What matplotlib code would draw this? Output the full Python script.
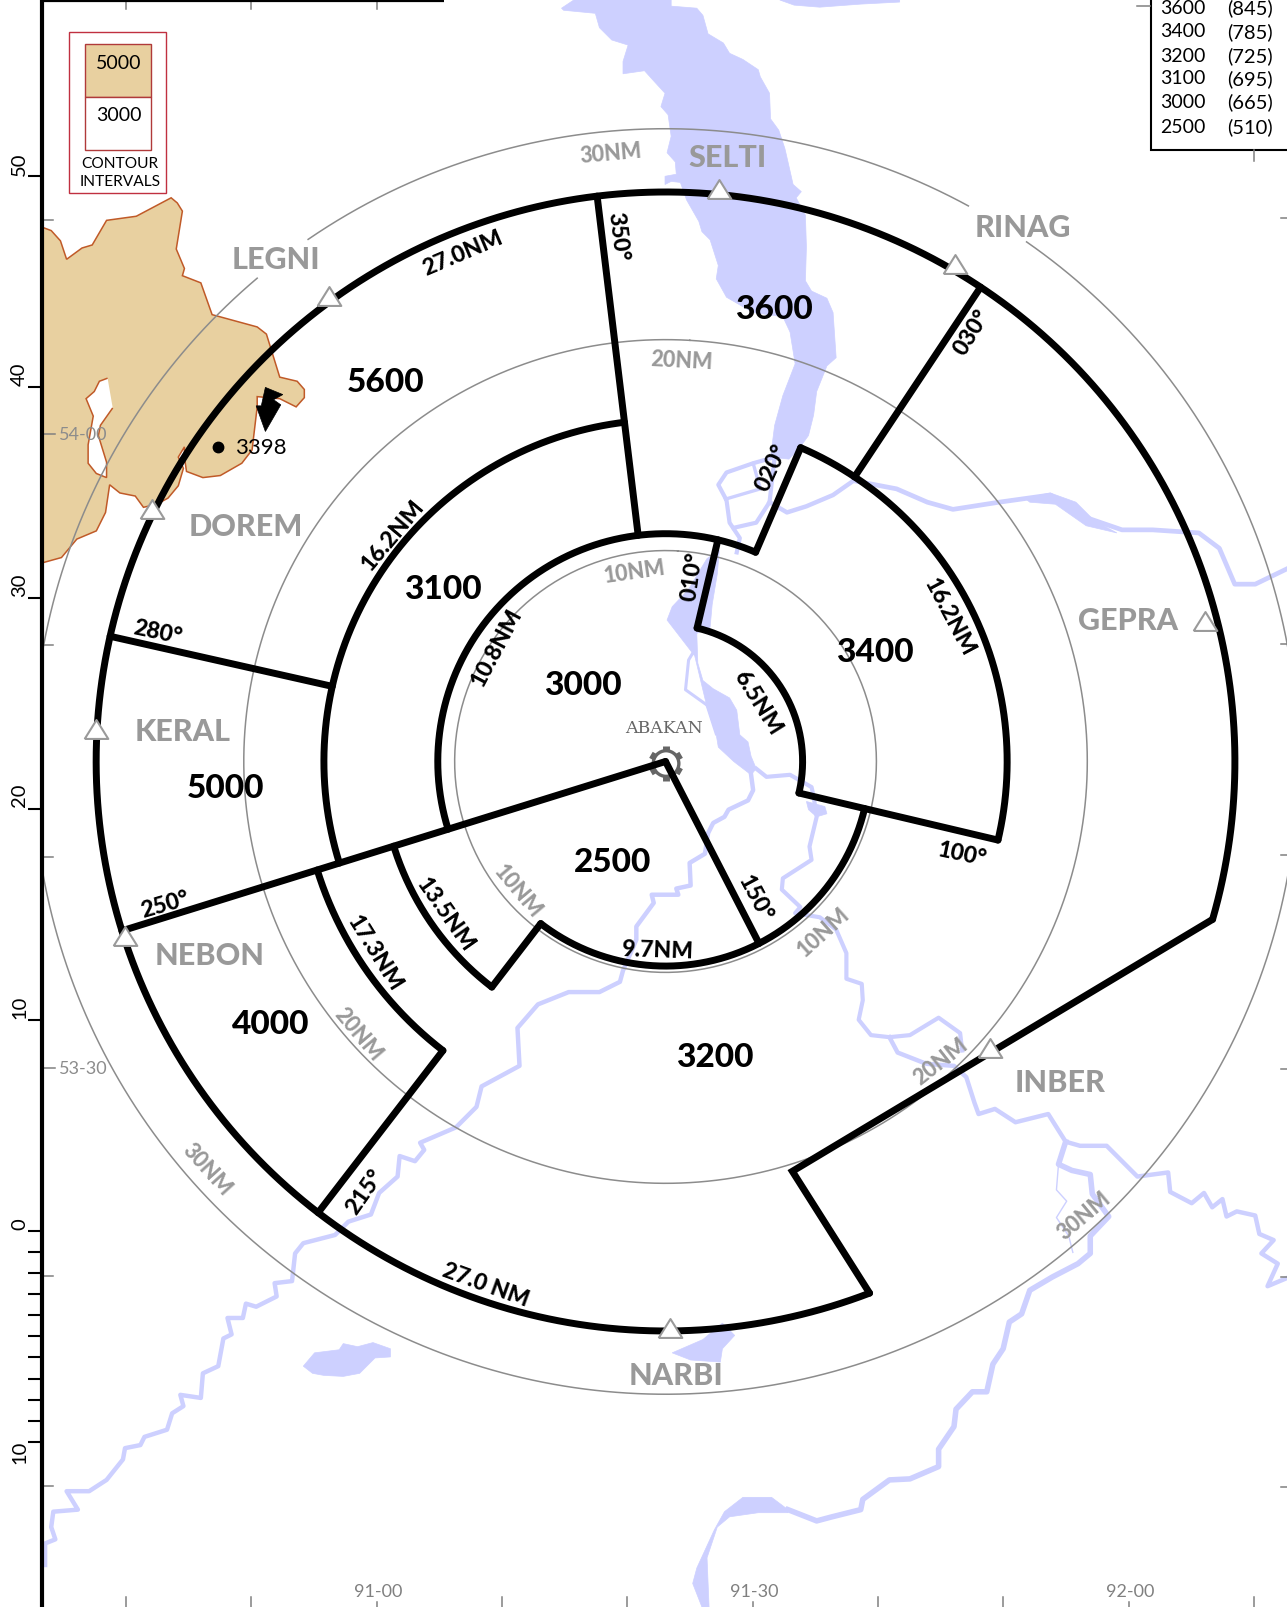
import numpy as np
import matplotlib
matplotlib.use("Agg")
import matplotlib.pyplot as plt
from matplotlib.patches import Polygon, Rectangle, Circle, PathPatch
from matplotlib.path import Path

plt.rcParams['font.family'] = ['Lato', 'DejaVu Sans']

# chart frame expressed in picture units
W, H = 1256, 1568
CX, CY, NM, ROT = 649.5, 743.0, 20.58, 3.3
WATER, TAN, EDGE, GREY = '#CDD0FF', '#E8D0A0', '#C05A28', '#999999'

# --- sector structure (bearing in degrees, distance in NM)
outer_arc = (27.0, 155.7, 462.8)
arcs = [(16.2, 249.4, 349.8), (16.2, 20, 100), (10.8, 249.4, 380), (6.5, 10, 100),
        (9.7, 100, 214.3), (13.5, 214.3, 249.4), (17.3, 214.3, 249.4)]
radials = [(249.4, 0, 27), (149.5, 0, 9.7), (279.4, 16.2, 27), (349.8, 10.8, 27), (30.3, 16.2, 27),
           (20, 10.8, 16.2), (10, 6.5, 10.8), (100, 6.5, 16.2), (214.3, 9.7, 13.5), (214.3, 17.3, 27)]
notch_brg = [155.7, 159.5, 102.8]
notch_nm = [27, 20.34, 27]
range_rings = [10, 20, 30]
ring30_gaps = [(316.5, 322.3), (25.3, 31.5)]

# --- labels
sector_names = ['5600', '3600', '3100', '3400', '3000', '2500', '5000', '4000', '3200']
sector_x = [376, 755, 432, 854, 569, 598, 220, 264, 698]
sector_y = [371, 300, 573, 635, 667, 840, 767, 998, 1030]

fix_names = ['LEGNI', 'SELTI', 'RINAG', 'GEPRA', 'DOREM', 'KERAL', 'NEBON', 'INBER', 'NARBI']
fix_lx = [269, 710, 998, 1101, 240, 178, 205, 1035, 660]
fix_ly = [252, 152, 220, 604, 512, 712, 931, 1055, 1341]
fix_tx = [321, 702, 932, 1176, 148, 94, 122, 966, 654]
fix_ty = [289, 184, 258, 606, 497, 711, 913, 1023, 1296]

ring_text = ['30NM', '20NM', '10NM', '10NM', '20NM', '30NM', '10NM', '20NM', '30NM']
ring_tx = [596, 665, 619, 507, 351, 203, 802, 917, 1057]
ring_ty = [148, 350, 556, 869, 1008, 1140, 908, 1034, 1185]
ring_rot = [5, -3, 8, -50, -50, -48, 42, 38, 40]

seg_text = ['27.0NM', '350°', '030°', '020°', '010°', '16.2NM', '16.2NM', '10.8NM', '6.5NM', '280°',
            '250°', '100°', '150°', '13.5NM', '9.7NM', '17.3NM', '215°', '27.0 NM']
seg_x = [451, 605, 947, 752, 674, 382, 928, 483, 741, 154, 161, 939, 739, 436, 641, 367, 355, 475]
seg_y = [245, 231, 323, 456, 562, 521, 601, 631, 685, 615, 881, 832, 876, 892, 926, 929, 1162, 1252]
seg_rot = [23, -83, 58, 65, 82, 50, -62, 62, -58, -12, 16, -12, -62, -55, -2, -58, 55, -20]

# --- MSA table
table_alt = ['3600', '3400', '3200', '3100', '3000', '2500']
table_m = ['(845)', '(785)', '(725)', '(695)', '(665)', '(510)']
table_y = [7, 30, 54, 76, 99, 123]

# --- scales
scale_vals = [50, 40, 30, 20, 10, 0, -1, -2, -3, -4, -5, -6, -7, -8, -9, -10]
scale_lab = {50: 160, 40: 365, 30: 571, 20: 776, 10: 983, 0: 1194, -10: 1417}
lat_ticks = [215, 423, 629, 836, 1042, 1245, 1450]
lat_long = {423: '54-00', 1042: '53-30'}
right_ticks = [213, 628, 834, 1043, 1246, 1451]
lon_ticks = [123, 245, 368, 490, 612, 735, 857, 979, 1102, 1224]
lon_labels = {368: '91-00', 735: '91-30', 1102: '92-00'}
top_ticks = [123, 245, 368]

# --- terrain and water outlines
terrain_x = [42, 50, 59, 65, 80, 90, 104, 133, 167, 173, 178, 172, 180, 178, 196, 207, 251, 260, 273, 290, 297, 297, 289, 273, 251, 251, 246, 236, 215, 198, 182, 180, 180, 174, 179, 174, 164, 153, 140, 132, 117, 107, 103, 94, 75, 60, 42]
terrain_y = [222, 225, 235, 253, 242, 239, 215, 211, 193, 198, 206, 243, 262, 269, 276, 307, 319, 326, 368, 372, 380, 388, 397, 389, 387, 397, 439, 452, 464, 466, 460, 446, 436, 446, 457, 474, 486, 492, 495, 484, 481, 473, 500, 518, 526, 544, 549]
hole_x = [105, 97, 92, 84, 91, 86, 86, 94, 104, 104, 96, 98, 110]
hole_y = [369, 372, 382, 389, 406, 434, 452, 462, 466, 451, 425, 415, 398]
peak_arrow_x = [259, 276, 267, 274, 259, 250, 255, 257]
peak_arrow_y = [378, 385, 390, 395, 421, 396, 396, 387]

lake_n_x = [560, 655, 655, 680, 686, 691, 706, 712, 725, 740, 742, 751, 752, 760, 766, 769, 774, 782, 777, 786, 787, 786, 792, 807, 813, 816, 807, 797, 794, 789, 781, 770, 752, 756, 764, 776, 771, 764, 735, 709, 699, 701, 693, 685, 682, 670, 664, 655, 649, 649, 660, 659, 651, 655, 652, 645, 649, 638, 629, 608, 608, 613, 597, 585, 581, 550, 548]
lake_n_y = [0, 0, 6, 8, 15, 33, 42, 52, 58, 68, 75, 91, 116, 127, 145, 158, 180, 187, 193, 210, 241, 274, 284, 291, 305, 349, 357, 382, 405, 425, 436, 448, 446, 415, 386, 355, 324, 309, 305, 290, 272, 259, 234, 226, 216, 195, 178, 177, 180, 172, 170, 158, 149, 133, 112, 104, 91, 79, 69, 72, 60, 44, 39, 27, 13, 10, 8]
lake_ne_x = [761, 775, 800, 840, 878, 878]
lake_ne_y = [0, 5, 7, 4, 2, 0]
lake_c_x = [651, 656, 672, 690, 702, 700, 695, 693, 680, 681, 686, 696, 712, 719, 722, 730, 733, 738, 733, 716, 701, 699, 690, 678]
lake_c_y = [605, 592, 575, 545, 537, 560, 590, 612, 618, 647, 664, 672, 681, 693, 717, 724, 738, 750, 756, 743, 729, 717, 690, 640]
blob_x = [787, 805, 807, 797, 789]
blob_y = [782, 787, 794, 797, 790]
pond_x = [296, 307, 331, 335, 349, 364, 381, 381, 366, 351, 335, 316, 305]
pond_y = [1333, 1320, 1317, 1311, 1314, 1310, 1316, 1324, 1325, 1340, 1343, 1342, 1340]
narbi_x = [656, 686, 705, 717, 705, 703, 674]
narbi_y = [1320, 1307, 1291, 1303, 1316, 1329, 1327]
bend_x = [769, 753, 725, 707, 697, 680, 676, 685, 692, 690, 700, 712, 740, 769]
bend_y = [1473, 1461, 1461, 1475, 1493, 1530, 1545, 1568, 1568, 1520, 1490, 1480, 1476, 1476]
ne_lake_x = [1000, 1025, 1050, 1068, 1090, 1060, 1030, 1005]
ne_lake_y = [486, 481, 490, 508, 520, 513, 492, 490]

river_sw_x = [733, 735, 730, 711, 707, 696, 691, 688, 673, 674, 660, 662, 636, 638, 621, 621, 608, 605, 585, 555, 525, 505, 507, 470, 465, 445, 410, 414, 405, 390, 388, 370, 362, 340, 327, 296, 288, 285, 268, 270, 250, 240, 237, 222, 226, 218, 213, 198, 196, 176, 179, 168, 163, 141, 137, 122, 120, 104, 87, 65, 76, 52, 50, 54, 44, 44]
river_sw_y = [756, 771, 781, 790, 797, 803, 813, 833, 842, 864, 867, 873, 873, 881, 904, 917, 947, 958, 968, 968, 980, 1003, 1040, 1060, 1080, 1100, 1115, 1122, 1133, 1128, 1148, 1164, 1185, 1192, 1205, 1213, 1223, 1250, 1252, 1265, 1275, 1272, 1286, 1286, 1302, 1306, 1333, 1340, 1364, 1361, 1372, 1379, 1395, 1402, 1410, 1413, 1424, 1444, 1455, 1455, 1473, 1475, 1490, 1502, 1506, 1527]
river_se_x = [738, 748, 771, 792, 794, 797, 790, 792, 764, 763, 781, 776, 800, 816, 826, 826, 841, 842, 838, 850, 868, 888, 916, 937, 939]
river_se_y = [750, 758, 756, 768, 777, 797, 826, 839, 857, 868, 885, 891, 895, 907, 930, 955, 960, 976, 995, 1010, 1012, 1010, 993, 1008, 1025]
river_e_x = [868, 876, 904, 931, 943, 951, 955, 971, 991, 1023, 1040, 1054, 1080, 1110, 1140, 1142, 1163, 1175, 1183, 1193, 1197, 1207, 1225, 1229, 1243, 1231, 1247, 1237, 1256]
river_e_y = [1012, 1027, 1038, 1040, 1051, 1076, 1087, 1082, 1095, 1087, 1114, 1118, 1118, 1148, 1144, 1163, 1174, 1164, 1178, 1170, 1187, 1182, 1186, 1204, 1210, 1223, 1233, 1255, 1247]
river_s_x = [1040, 1033, 1046, 1064, 1066, 1082, 1064, 1064, 1052, 1027, 1005, 997, 985, 979, 969, 963, 949, 933, 931, 916, 916, 888, 868, 842, 840, 812, 797, 769]
river_s_y = [1114, 1136, 1142, 1146, 1165, 1187, 1206, 1223, 1233, 1246, 1259, 1282, 1290, 1316, 1331, 1358, 1358, 1375, 1392, 1414, 1431, 1443, 1444, 1463, 1473, 1480, 1484, 1473]
river_thin_x = [1033, 1031, 1041, 1031, 1043, 1047]
river_thin_y = [1136, 1161, 1172, 1188, 1206, 1222]
river_ne_x = [833, 875, 905, 930, 975, 1025, 1060, 1095, 1125, 1170, 1190, 1205, 1225, 1256]
river_ne_y = [469, 477, 490, 497, 490, 483, 505, 517, 517, 520, 535, 570, 570, 555]
braid_a_x = [756, 735, 709, 701, 709, 712, 722, 719]
braid_a_y = [446, 452, 461, 473, 488, 510, 525, 539]
braid_b_x = [708, 742, 735]
braid_b_y = [487, 477, 452]
braid_c_x = [716, 738, 751, 756]
braid_c_y = [515, 510, 490, 446]
braid_d_x = [751, 768, 787, 813, 833]
braid_d_y = [490, 500, 494, 483, 469]
loop_x = [678, 672, 669, 690, 699]
loop_y = [634, 644, 673, 688, 678]
loop2_x = [690, 699]
loop2_y = [688, 716]


def pol(brg, nm):
    t = np.radians(np.asarray(brg, float) + ROT)
    r = np.asarray(nm, float) * NM
    return CX + r * np.sin(t), CY - r * np.cos(t)


def arc(nm, b0, b1):
    b = np.linspace(b0, b1, 300)
    return pol(b, np.full_like(b, nm))


def shift(x, y, rot, d=2.0):
    a = np.radians(rot)
    return x + d * np.sin(a), y + d * np.cos(a)


fig = plt.figure(figsize=(12.87, 16.07), dpi=100)
ax = fig.add_axes([0, 0, 1, 1])
ax.set_xlim(0, W)
ax.set_ylim(H, 0)
ax.axis('off')
clip = Rectangle((41, 0), W - 41, H, transform=ax.transData)

# water
for xs, ys in [(lake_n_x, lake_n_y), (lake_ne_x, lake_ne_y), (lake_c_x, lake_c_y), (blob_x, blob_y),
               (pond_x, pond_y), (narbi_x, narbi_y), (bend_x, bend_y), (ne_lake_x, ne_lake_y)]:
    ax.add_patch(Polygon(np.c_[xs, ys], closed=True, fc=WATER, ec=WATER, lw=0.5, zorder=1))
for xs, ys, lw in [(river_sw_x, river_sw_y, 3.2), (river_se_x, river_se_y, 3.0), (river_e_x, river_e_y, 3.2),
                   (river_s_x, river_s_y, 4.0), (river_thin_x, river_thin_y, 1.0), (river_ne_x, river_ne_y, 3.4),
                   (braid_a_x, braid_a_y, 3.0), (braid_b_x, braid_b_y, 2.4), (braid_c_x, braid_c_y, 3.0),
                   (braid_d_x, braid_d_y, 3.2), (loop_x, loop_y, 2.2), (loop2_x, loop2_y, 2.2)]:
    l, = ax.plot(xs, ys, color=WATER, lw=lw, zorder=1, solid_joinstyle='round')
    l.set_clip_path(clip)

# terrain with a hole
v = np.r_[np.c_[terrain_x, terrain_y], np.c_[hole_x, hole_y]]
codes = [Path.MOVETO] + [Path.LINETO] * (len(terrain_x) - 1) + [Path.MOVETO] + [Path.LINETO] * (len(hole_x) - 1)
ax.add_patch(PathPatch(Path(v, codes), fc=TAN, ec=EDGE, lw=1.1, zorder=2))

# range rings
for r in range_rings:
    if r == 30:
        spans = [(ring30_gaps[1][1], ring30_gaps[0][0]), (ring30_gaps[0][1], 360 + ring30_gaps[1][0])]
    else:
        spans = [(0, 360)]
    for a, b in spans:
        l, = ax.plot(*arc(r, a, b), color='#8C8C8C', lw=1.1, zorder=3)
        l.set_clip_path(clip)

# sector lines
kw = dict(color='black', lw=5.0, zorder=5, solid_capstyle='round', solid_joinstyle='round')
ax.plot(*arc(*outer_arc), **kw)
for a in arcs:
    ax.plot(*arc(*a), **kw)
for b, r0, r1 in radials:
    ax.plot(*pol([b, b], [r0, r1]), **kw)
ax.plot(*pol(notch_brg, notch_nm), **{**kw, 'solid_joinstyle': 'miter'})

# frame
ax.plot([41, 41], [0, H], color='black', lw=3, zorder=7, solid_capstyle='butt')
ax.plot([41, 433], [0.8, 0.8], color='black', lw=1.6, zorder=7, solid_capstyle='butt')
for v_ in scale_vals:
    y = 1201 - v_ * NM if v_ >= 0 else 1201 + abs(v_) * NM
    ax.plot([27, 41], [y, y], color='black', lw=1.5, zorder=7, solid_capstyle='butt')
    if v_ in scale_lab:
        ax.text(19, scale_lab[v_], str(abs(v_)), rotation=90, ha='center', va='center', fontsize=14.5, color='black', zorder=8)
for y in lat_ticks:
    x1 = 54 if y in lat_long else 52
    ax.plot([42, x1], [y, y], color='#808080', lw=1.1, zorder=6)
    if y in lat_long:
        ax.text(81, y + 1, lat_long[y], ha='center', va='center', fontsize=13, color='#8C8C8C', zorder=8)
for y in right_ticks:
    ax.plot([1250, W], [y, y], color='#808080', lw=1.1, zorder=6)
for x in lon_ticks:
    y0 = 1563 if x in lon_labels else 1558
    ax.plot([x, x], [y0, H], color='#808080', lw=1.1, zorder=6)
    if x in lon_labels:
        ax.text(x + 1, 1553, lon_labels[x], ha='center', va='center', fontsize=13, color='#808080', zorder=8)
for x in top_ticks:
    ax.plot([x, x], [0, 9], color='#808080', lw=1.1, zorder=6)

# contour legend
ax.add_patch(Rectangle((67, 31), 95, 157, fc='white', ec='#C03040', lw=1, zorder=6))
ax.add_patch(Rectangle((83, 43), 64, 51.5, fc=TAN, ec='#B03A3A', lw=1, zorder=7))
ax.add_patch(Rectangle((83, 94.5), 64, 52, fc='white', ec='#B03A3A', lw=1, zorder=7))
ax.text(116, 61.5, '5000', ha='center', va='center', fontsize=14, zorder=8)
ax.text(116, 112.5, '3000', ha='center', va='center', fontsize=14, zorder=8)
ax.text(117, 160, 'CONTOUR', ha='center', va='center', fontsize=11.2, zorder=8)
ax.text(117, 178, 'INTERVALS', ha='center', va='center', fontsize=11.2, zorder=8)

# MSA table
ax.add_patch(Rectangle((1123, -5), 140, 151, fc='white', ec='black', lw=1.5, zorder=6))
ax.plot([1110, 1122], [5.5, 5.5], color='#808080', lw=1.1, zorder=6)
ax.plot([1224, 1224], [146, 157], color='#808080', lw=1.1, zorder=6)
for a, m, y in zip(table_alt, table_m, table_y):
    ax.text(1132, y + 1, a, ha='left', va='center', fontsize=14, zorder=8)
    ax.text(1198, y + 1, m, ha='left', va='center', fontsize=14.5, zorder=8)

# peak
ax.add_patch(Polygon(np.c_[peak_arrow_x, peak_arrow_y], closed=True, fc='black', ec='black', lw=0.5, zorder=6))
ax.plot([213], [436.5], 'o', ms=7.5, color='black', zorder=6)
ax.text(255, 437.5, '3398', ha='center', va='center', fontsize=16, zorder=8)

# airport symbol
ax.add_patch(Circle((650, 745), 12.5, fc='none', ec='#666666', lw=2.4, zorder=4))
for b in [30, 90, 150, 210, 270, 330]:
    t = np.radians(b)
    ax.plot([650 + 12 * np.cos(t), 650 + 17 * np.cos(t)], [745 + 12 * np.sin(t), 745 + 17 * np.sin(t)],
            color='#666666', lw=5, zorder=4, solid_capstyle='butt')
ax.text(648, 711, 'ABAKAN', family=['DejaVu Serif'], ha='center', va='center', fontsize=12.5, color='#666666', zorder=8)

# fixes
tri = [(-1.0, -0.8), (1.0, -0.8), (0.0, 0.8), (-1.0, -0.8)]
ax.plot(fix_tx, fix_ty, ls='none', marker=tri, ms=17, mfc='white', mec='#9A9A9A', mew=1.5, zorder=6)
for t, x, y in zip(fix_names, fix_lx, fix_ly):
    ax.text(x, y + 2, t, ha='center', va='center', fontsize=22, fontweight=900, color=GREY, zorder=8)
for t, x, y, r in zip(ring_text, ring_tx, ring_ty, ring_rot):
    sx, sy = shift(x, y, r)
    ax.text(sx, sy, t, ha='center', va='center', rotation=r, rotation_mode='anchor', fontsize=15.5,
            fontweight=900, color=GREY, zorder=8)
for t, x, y, r in zip(seg_text, seg_x, seg_y, seg_rot):
    sx, sy = shift(x, y, r)
    ax.text(sx, sy, t, ha='center', va='center', rotation=r, rotation_mode='anchor', fontsize=16.5,
            fontweight=900, color='black', zorder=9)
for t, x, y in zip(sector_names, sector_x, sector_y):
    ax.text(x, y + 2, t, ha='center', va='center', fontsize=24, fontweight=900, color='black', zorder=9)

fig.savefig('out.png', dpi=100)
